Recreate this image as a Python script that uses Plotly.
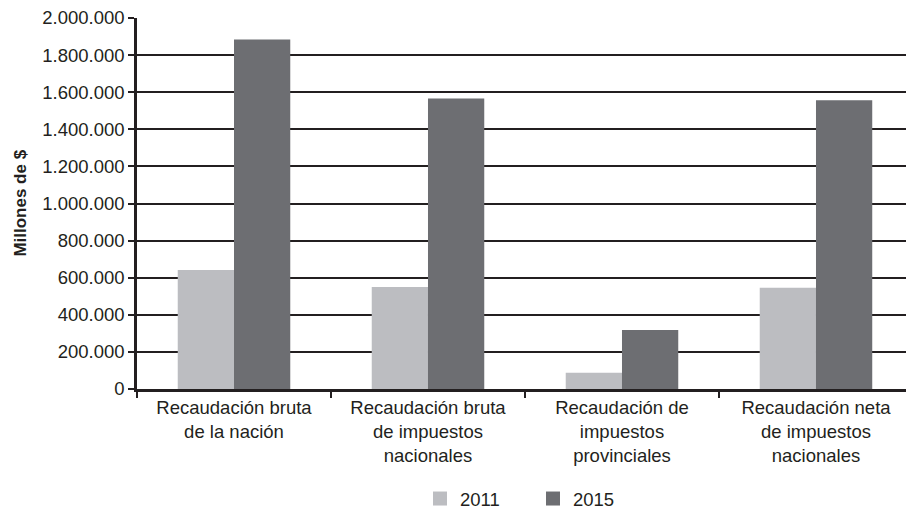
import plotly.graph_objects as go

# Recaudación (millones de $) por concepto, 2011 vs 2015
categories = [
    "Recaudación bruta<br>de la nación",
    "Recaudación bruta<br>de impuestos<br>nacionales",
    "Recaudación de<br>impuestos<br>provinciales",
    "Recaudación neta<br>de impuestos<br>nacionales",
]
values_2011 = [641000, 550000, 88000, 546000]
values_2015 = [1884000, 1566000, 318000, 1557000]
y_ticks = [0, 200000, 400000, 600000, 800000, 1000000, 1200000,
           1400000, 1600000, 1800000, 2000000]
years = ["2011", "2015"]

LIGHT = "#bcbdc1"
DARK = "#6d6e72"
INK = "#231f20"
FONT = "Liberation Sans, Arial, Helvetica, sans-serif"

fig = go.Figure()
for name, vals, col in zip(years, [values_2011, values_2015], [LIGHT, DARK]):
    fig.add_trace(go.Bar(name=name, x=categories, y=vals, showlegend=False,
                         marker=dict(color=col, line=dict(width=0))))
    # larger square swatch for the legend
    fig.add_trace(go.Scatter(name=name, x=[None], y=[None], mode="markers",
                             marker=dict(symbol="square", size=14, color=col),
                             showlegend=True))

fig.update_layout(
    width=906, height=518,
    margin=dict(l=137, r=0, t=18, b=128),
    paper_bgcolor="white", plot_bgcolor="white",
    separators=",.",
    barmode="group", bargap=0.42, bargroupgap=0,
    font=dict(family=FONT, size=18.5, color=INK),
    showlegend=True,
    legend=dict(orientation="h", x=0.368, xanchor="left",
                y=-0.296, yanchor="middle",
                font=dict(size=18.5, color=INK),
                itemwidth=30, entrywidth=68, entrywidthmode="pixels",
                traceorder="normal"),
    xaxis=dict(
        type="category",
        range=[-0.5, 3.464],
        showline=True, linecolor=INK, linewidth=2.5,
        ticks="outside", tickson="boundaries", ticklen=6,
        tickcolor=INK, tickwidth=1.5,
        showgrid=False,
        tickfont=dict(size=18.5, color=INK),
    ),
    yaxis=dict(
        range=[0, 2000000],
        tickvals=y_ticks,
        tickformat=",d",
        showline=True, linecolor=INK, linewidth=2.5,
        ticks="outside", ticklen=6, tickcolor=INK, tickwidth=1.5,
        showgrid=True, gridcolor=INK, gridwidth=1.6,
        zeroline=False,
        tickfont=dict(size=18.5, color=INK),
    ),
    annotations=[dict(
        text="<b>Millones de $</b>", textangle=-90,
        xref="paper", yref="paper", x=-0.152, y=0.5,
        xanchor="center", yanchor="middle", showarrow=False,
        font=dict(size=17, color=INK, family=FONT),
    )],
)

fig.write_html("out.html")
